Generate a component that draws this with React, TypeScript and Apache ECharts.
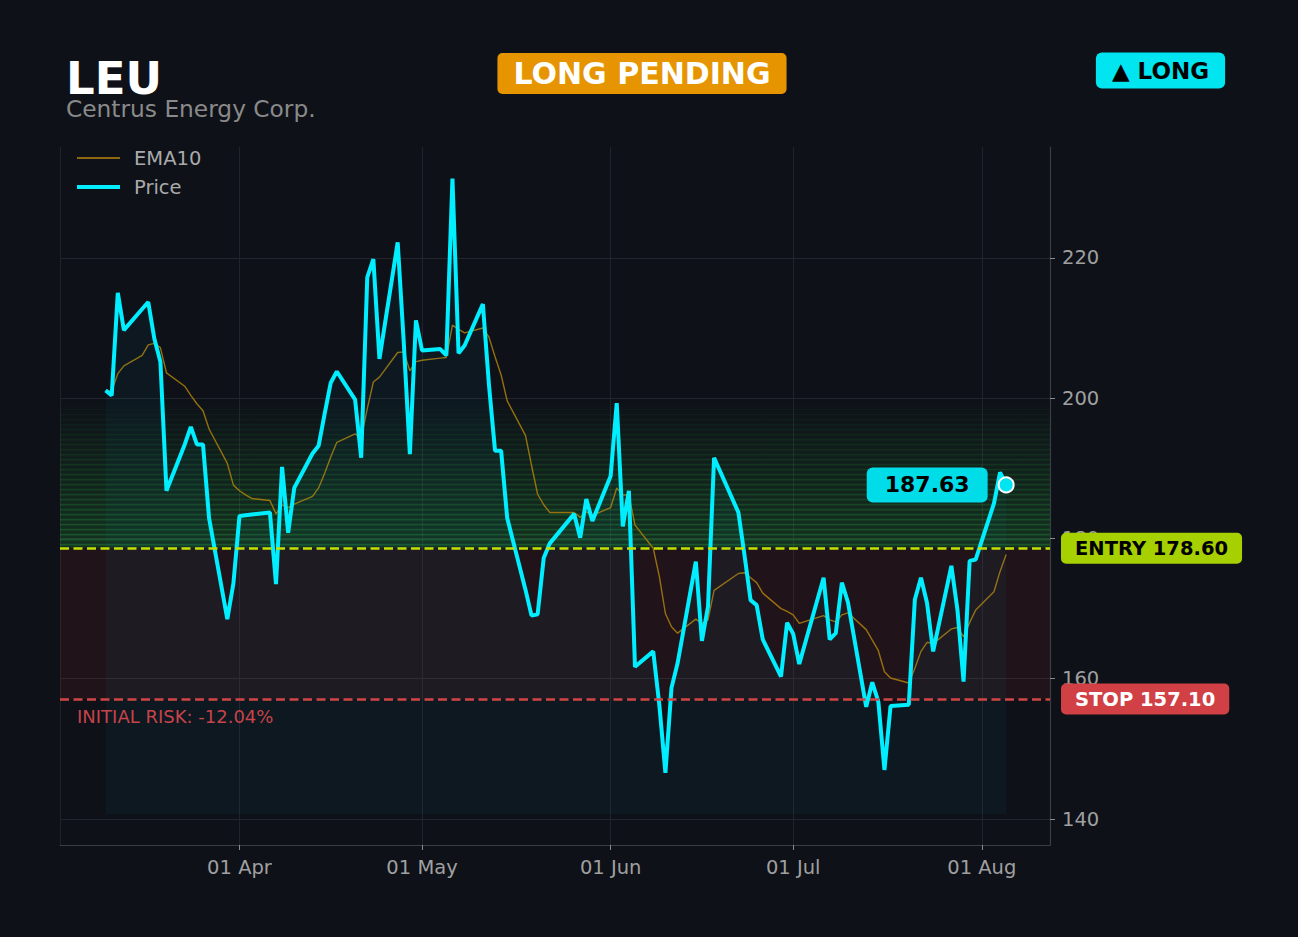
import React, { useEffect, useRef } from 'react';
import * as echarts from 'echarts';

const TICKER = 'LEU';
const COMPANY = 'Centrus Energy Corp.';
const STATUS = 'LONG PENDING';
const DIRECTION = '▲ LONG';

const dates = [
  '2025-03-10', '2025-03-11', '2025-03-12', '2025-03-13',
  '2025-03-16', '2025-03-17', '2025-03-18', '2025-03-19', '2025-03-20',
  '2025-03-23', '2025-03-24', '2025-03-25', '2025-03-26', '2025-03-27',
  '2025-03-30', '2025-03-31', '2025-04-01', '2025-04-02', '2025-04-03',
  '2025-04-06', '2025-04-07', '2025-04-08', '2025-04-09', '2025-04-10',
  '2025-04-13', '2025-04-14', '2025-04-15', '2025-04-16', '2025-04-17',
  '2025-04-20', '2025-04-21', '2025-04-22', '2025-04-23', '2025-04-24',
  '2025-04-27', '2025-04-28', '2025-04-29', '2025-04-30', '2025-05-01',
  '2025-05-04', '2025-05-05', '2025-05-06', '2025-05-07', '2025-05-08',
  '2025-05-11', '2025-05-12', '2025-05-13', '2025-05-14', '2025-05-15',
  '2025-05-18', '2025-05-19', '2025-05-20', '2025-05-21', '2025-05-22',
  '2025-05-26', '2025-05-27', '2025-05-28', '2025-05-29',
  '2025-06-01', '2025-06-02', '2025-06-03', '2025-06-04', '2025-06-05',
  '2025-06-08', '2025-06-09', '2025-06-10', '2025-06-11', '2025-06-12',
  '2025-06-15', '2025-06-16', '2025-06-17', '2025-06-18',
  '2025-06-22', '2025-06-23', '2025-06-24', '2025-06-25', '2025-06-26',
  '2025-06-29', '2025-06-30', '2025-07-01', '2025-07-02',
  '2025-07-06', '2025-07-07', '2025-07-08', '2025-07-09', '2025-07-10',
  '2025-07-13', '2025-07-14', '2025-07-15', '2025-07-16', '2025-07-17',
  '2025-07-20', '2025-07-21', '2025-07-22', '2025-07-23', '2025-07-24',
  '2025-07-27', '2025-07-28', '2025-07-29', '2025-07-30', '2025-07-31',
  '2025-08-03', '2025-08-04', '2025-08-05',
];

const price = [
  201.1, 200.4, 215.0, 209.7,
  212.7, 213.7, 208.5, 205.2, 186.8,
  193.4, 195.9, 193.4, 193.4, 182.9,
  168.5, 173.6, 183.2, 183.3, 183.4,
  183.7, 173.5, 190.2, 180.8, 187.2,
  192.1, 193.2, 197.8, 202.2, 203.8,
  199.8, 191.5, 217.2, 219.8, 205.6,
  222.2, 207.9, 192.0, 211.1, 206.8,
  207.0, 206.1, 231.3, 206.4, 207.5,
  213.4, 201.9, 192.5, 192.5, 182.9,
  172.7, 169.0, 169.2, 177.2, 179.3,
  183.5, 180.1, 185.6, 182.5,
  188.9, 199.3, 181.7, 186.8, 161.7,
  163.9, 156.3, 146.6, 158.7, 162.2,
  176.7, 165.4, 170.3, 191.5,
  183.7, 177.6, 171.2, 170.5, 165.6,
  160.3, 168.0, 166.4, 162.1,
  174.4, 165.6, 166.5, 173.7, 170.9,
  156.0, 159.5, 156.7, 147.0, 156.1,
  156.3, 171.3, 174.4, 170.8, 163.9,
  176.1, 169.8, 159.6, 176.8, 177.0,
  185.0, 189.4, 187.63,
];

const ema10 = [
  201.1, 201.0, 203.5, 204.6,
  206.1, 207.6, 207.8, 207.2, 203.6,
  201.7, 200.4, 199.2, 198.2, 195.6,
  190.7, 187.6, 186.8, 186.2, 185.7,
  185.4, 183.5, 184.8, 184.4, 184.9,
  186.0, 187.2, 189.3, 191.6, 193.7,
  194.9, 194.3, 198.5, 202.3, 203.0,
  206.5, 206.6, 203.9, 205.2, 205.4,
  205.7, 205.8, 210.4, 209.8, 209.3,
  210.0, 208.7, 205.9, 203.3, 199.6,
  194.7, 190.4, 186.3, 184.8, 183.7,
  183.7, 183.0, 183.8, 183.3,
  184.4, 187.2, 186.2, 186.2, 181.9,
  178.6, 174.6, 169.3, 167.4, 166.5,
  168.5, 167.9, 168.4, 172.6,
  175.0, 175.1, 174.4, 173.7, 172.2,
  170.0, 169.6, 169.1, 167.9,
  169.0, 168.4, 168.1, 169.1, 169.4,
  167.0, 165.5, 164.0, 161.0, 160.1,
  159.4, 161.5, 163.9, 165.2, 165.0,
  167.1, 167.3, 166.0, 168.0, 169.8,
  172.4, 175.3, 177.7,
];

const ENTRY = 178.6;
const STOP = 157.1;
const ZONE_TOP = 200;
const AREA_BASE = 140.7;
const Y_MIN = 136.3;
const Y_MAX = 235.8;
const X_MIN = '2025-03-02T12:00:00Z';
const X_MAX = '2025-08-12T05:00:00Z';
const MONTHS = ['Jan', 'Feb', 'Mar', 'Apr', 'May', 'Jun', 'Jul', 'Aug', 'Sep', 'Oct', 'Nov', 'Dec'];

const BG = '#0e1118';
const FONT = '"DejaVu Sans", sans-serif';
const DAY = 86400000;
const EMA_COLOR = 'rgba(184,134,11,0.8)';
const PRICE_COLOR = '#00eeff';

export default function App() {
  const ref = useRef<HTMLDivElement>(null);

  useEffect(() => {
    const chart = echarts.init(ref.current as HTMLDivElement, null, { renderer: 'svg' });
    const ts = (d: string) => Date.parse(d + 'T00:00:00Z');
    const priceData = dates.map((d, i) => [ts(d), price[i]]);
    const emaData = dates.map((d, i) => [ts(d), ema10[i]]);
    const last = priceData[priceData.length - 1];
    const risk = ((STOP - ENTRY) / ENTRY) * 100;

    const STRIPES = 30;
    const step = (ZONE_TOP - ENTRY) / STRIPES;
    const areas: any[] = [
      [{ yAxis: STOP, itemStyle: { color: 'rgba(200,50,45,0.10)' } }, { yAxis: ENTRY }],
      [
        {
          yAxis: ENTRY,
          itemStyle: {
            color: new echarts.graphic.LinearGradient(0, 0, 0, 1, [
              { offset: 0, color: 'rgba(40,165,60,0.0)' },
              { offset: 1, color: 'rgba(40,165,60,0.22)' },
            ]),
          },
        },
        { yAxis: ZONE_TOP },
      ],
    ];
    for (let i = 0; i < STRIPES; i++) {
      const lo = ENTRY + i * step;
      const a = 0.3 * (1 - i / STRIPES);
      areas.push([
        { yAxis: lo + step * 0.55, itemStyle: { color: `rgba(45,175,65,${a.toFixed(3)})` } },
        { yAxis: lo + step * 0.9 },
      ]);
    }

    const legendBase = {
      orient: 'horizontal',
      left: 77,
      padding: 0,
      itemWidth: 43,
      selectedMode: false,
      textStyle: { color: '#aaaaaa', fontSize: 19.5, fontFamily: FONT, padding: [0, 0, 0, 9], lineHeight: 24 },
    };

    const option: any = {
      animation: false,
      useUTC: true,
      backgroundColor: BG,
      textStyle: { fontFamily: FONT },
      grid: { left: 60, right: 248, top: 147, bottom: 92 },
      legend: [
        {
          ...legendBase,
          top: 146,
          itemHeight: 2,
          data: [{ name: 'EMA10', icon: 'rect', itemStyle: { color: 'rgba(184,134,11,0.75)' } }],
        },
        {
          ...legendBase,
          top: 175,
          itemHeight: 4,
          data: [{ name: 'Price', icon: 'rect', itemStyle: { color: PRICE_COLOR } }],
        },
      ],
      graphic: [
        {
          type: 'text', left: 66, top: 56,
          style: { text: TICKER, fill: '#ffffff', font: `bold 45px ${FONT}` },
        },
        {
          type: 'text', left: 66, top: 97,
          style: { text: COMPANY, fill: '#8a8a8a', font: `23.3px ${FONT}` },
        },
        {
          type: 'text', x: 642, y: 73.5,
          style: {
            text: STATUS, fill: '#ffffff', font: `bold 30px ${FONT}`,
            align: 'center', verticalAlign: 'middle',
            backgroundColor: '#e69500', padding: [6, 16, 5, 16], borderRadius: 5,
          },
        },
        {
          type: 'text', x: 1160.5, y: 70.5,
          style: {
            text: DIRECTION, fill: '#000000', font: `bold 23px ${FONT}`,
            align: 'center', verticalAlign: 'middle',
            backgroundColor: '#00e5f0', padding: [7, 16, 6, 16], borderRadius: 6,
          },
        },
      ],
      xAxis: {
        type: 'time',
        min: Date.parse(X_MIN),
        max: Date.parse(X_MAX),
        minInterval: 28 * DAY,
        maxInterval: 31 * DAY,
        axisLine: { show: true, lineStyle: { color: '#3a3d44', width: 1.2 } },
        axisTick: { show: true, length: 5, lineStyle: { color: '#8a8a8a' } },
        splitLine: { show: true, lineStyle: { color: '#20232b', width: 1 } },
        axisLabel: {
          color: '#a0a0a0', fontSize: 19.5, fontFamily: FONT, margin: 12,
          formatter: (v: number) => {
            const d = new Date(v);
            return `${String(d.getUTCDate()).padStart(2, '0')} ${MONTHS[d.getUTCMonth()]}`;
          },
        },
      },
      yAxis: {
        type: 'value',
        position: 'right',
        min: Y_MIN,
        max: Y_MAX,
        scale: true,
        axisLine: { show: true, lineStyle: { color: '#3a3d44', width: 1.2 } },
        axisTick: { show: true, length: 5, lineStyle: { color: '#8a8a8a' } },
        splitLine: { show: true, showMinLine: false, showMaxLine: false, lineStyle: { color: '#23262e', width: 1 } },
        axisLabel: {
          color: '#a0a0a0', fontSize: 19.5, fontFamily: FONT, margin: 12,
          showMinLabel: false, showMaxLabel: false,
        },
      },
      series: [
        {
          name: 'zones',
          type: 'line',
          data: priceData,
          symbol: 'none',
          silent: true,
          z: 1,
          lineStyle: { color: 'rgba(0,0,0,0)', width: 0 },
          markArea: { silent: true, data: areas },
          markLine: {
            silent: true,
            symbol: ['none', 'none'],
            data: [
              {
                yAxis: ENTRY,
                lineStyle: { color: '#c4e000', type: [9, 4.5], width: 2.5, opacity: 1 },
                label: {
                  show: true, position: 'end', distance: 11,
                  formatter: `ENTRY ${ENTRY.toFixed(2)}`,
                  backgroundColor: '#a6d000', color: '#000000', fontWeight: 'bold',
                  fontSize: 19.5, fontFamily: FONT, padding: [6, 14, 5, 14], borderRadius: 5,
                },
              },
              {
                yAxis: STOP,
                lineStyle: { color: '#d24545', type: [9, 4.5], width: 2.5, opacity: 1 },
                label: {
                  show: true, position: 'end', distance: 11,
                  formatter: `STOP ${STOP.toFixed(2)}`,
                  backgroundColor: '#d04045', color: '#ffffff', fontWeight: 'bold',
                  fontSize: 19.5, fontFamily: FONT, padding: [6, 14, 5, 14], borderRadius: 5,
                },
              },
              {
                yAxis: STOP,
                lineStyle: { color: 'rgba(0,0,0,0)', width: 0, opacity: 1 },
                label: {
                  show: true, position: 'insideStartBottom', distance: [17, 8],
                  formatter: `INITIAL RISK: ${risk.toFixed(2)}%`,
                  color: '#c8434a', fontSize: 18, fontFamily: FONT,
                },
              },
            ],
          },
        },
        {
          name: 'EMA10',
          type: 'line',
          data: emaData,
          symbol: 'none',
          z: 2,
          lineStyle: { color: EMA_COLOR, width: 1.4 },
          itemStyle: { color: EMA_COLOR },
        },
        {
          name: 'Price',
          type: 'line',
          data: priceData,
          symbol: 'none',
          z: 3,
          lineStyle: { color: PRICE_COLOR, width: 4 },
          itemStyle: { color: PRICE_COLOR },
          areaStyle: { color: 'rgba(0,190,230,0.06)', origin: AREA_BASE },
        },
        {
          name: 'last',
          type: 'scatter',
          data: [last],
          z: 4,
          symbolSize: 15,
          itemStyle: { color: '#00e5f0', borderColor: '#ffffff', borderWidth: 2, opacity: 1 },
          label: {
            show: true, position: 'left', distance: 10,
            formatter: (p: any) => p.value[1].toFixed(2),
            backgroundColor: '#00dde8', color: '#000000', fontWeight: 'bold',
            fontSize: 22, fontFamily: FONT, padding: [7, 18, 6, 18], borderRadius: 6,
          },
        },
      ],
    };

    chart.setOption(option);
    return () => chart.dispose();
  }, []);

  return (
    <div
      ref={ref}
      style={{ position: 'fixed', left: 0, top: 0, width: 1298, height: 937, background: BG }}
    />
  );
}
